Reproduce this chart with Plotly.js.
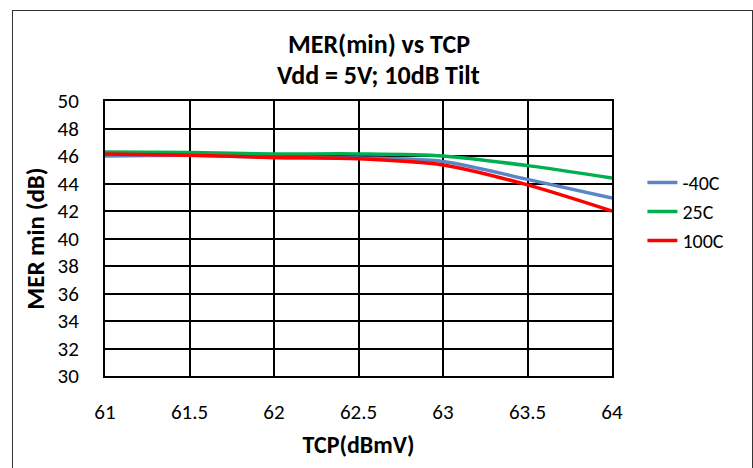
<!DOCTYPE html>
<html><head><meta charset="utf-8">
<script src="https://cdn.plot.ly/plotly-3.0.1.min.js"></script>
<style>
body{margin:0;padding:0;background:#fff;}
#wrap{position:relative;width:753px;height:468px;}
#chart{position:absolute;left:0;top:0;width:753px;height:468px;}
#frame{position:absolute;left:12px;top:10px;width:739px;height:470px;border:1.5px solid #333;pointer-events:none;}
</style></head>
<body><div id="wrap"><div id="chart"></div><div id="frame"></div></div>
<script>
const tcp = [61, 61.5, 62, 62.5, 63, 63.5, 64];
const merM40 = [46.0, 46.05, 45.9, 45.85, 45.6, 44.3, 42.95];
const mer25 = [46.3, 46.25, 46.15, 46.15, 46.0, 45.3, 44.4];
const mer100 = [46.15, 46.05, 45.9, 45.8, 45.35, 43.9, 42.0];
const seriesNames = ['-40C', '25C', '100C'];
const seriesColors = ['#5b86c5', '#00b050', '#ff0000'];
const xTicks = [61, 61.5, 62, 62.5, 63, 63.5, 64];
const yTicks = [30, 32, 34, 36, 38, 40, 42, 44, 46, 48, 50];
const titleLines = ['MER(min) vs TCP', 'Vdd = 5V; 10dB Tilt'];

const FONT = 'Carlito, Calibri, Lato, "Open Sans", sans-serif';
const vals = [merM40, mer25, mer100];
const traces = vals.map((v, i) => ({
  x: tcp, y: v, type: 'scatter', mode: 'lines', name: seriesNames[i],
  line: {color: seriesColors[i], width: 3.5, shape: 'spline', smoothing: 0.8}
}));

const layout = {
  width: 753, height: 468,
  margin: {l: 105, r: 141, t: 101, b: 92},
  paper_bgcolor: '#fff', plot_bgcolor: '#fff',
  font: {family: FONT, size: 22, color: '#000'},
  annotations: [
    {text: '<b>' + titleLines[0] + '</b>', xref: 'paper', yref: 'paper', x: 0.54, y: 1.207, xanchor: 'center', yanchor: 'middle', showarrow: false, font: {family: FONT, size: 26}},
    {text: '<b>' + titleLines[1] + '</b>', xref: 'paper', yref: 'paper', x: 0.54, y: 1.0945, xanchor: 'center', yanchor: 'middle', showarrow: false, font: {family: FONT, size: 26}}
  ],
  xaxis: {range: [61, 64], tickvals: xTicks, ticktext: xTicks.map(String),
          showgrid: true, gridcolor: '#000', gridwidth: 2, zeroline: false,
          showline: true, linecolor: '#000', linewidth: 2, mirror: true,
          ticks: 'outside', ticklen: 16, tickcolor: 'rgba(0,0,0,0)',
          tickfont: {family: FONT, size: 21},
          title: {text: '<b>TCP(dBmV)</b>', font: {family: FONT, size: 24}, standoff: 12}},
  yaxis: {range: [30, 50], tickvals: yTicks, ticktext: yTicks.map(String),
          showgrid: true, gridcolor: '#000', gridwidth: 2, zeroline: false,
          showline: true, linecolor: '#000', linewidth: 2, mirror: true,
          ticks: 'outside', ticklen: 20, tickcolor: 'rgba(0,0,0,0)',
          tickfont: {family: FONT, size: 21},
          title: {text: '<b>MER min (dB)</b>', font: {family: FONT, size: 25}, standoff: 6}},
  showlegend: true,
  legend: {x: 1.06, xanchor: 'left', y: 0.598, yanchor: 'middle', bgcolor: 'rgba(0,0,0,0)',
           font: {family: FONT, size: 20}, tracegroupgap: 0, itemwidth: 30}
};
Plotly.newPlot('chart', traces, layout, {displayModeBar: false, staticPlot: true});
</script></body></html>
